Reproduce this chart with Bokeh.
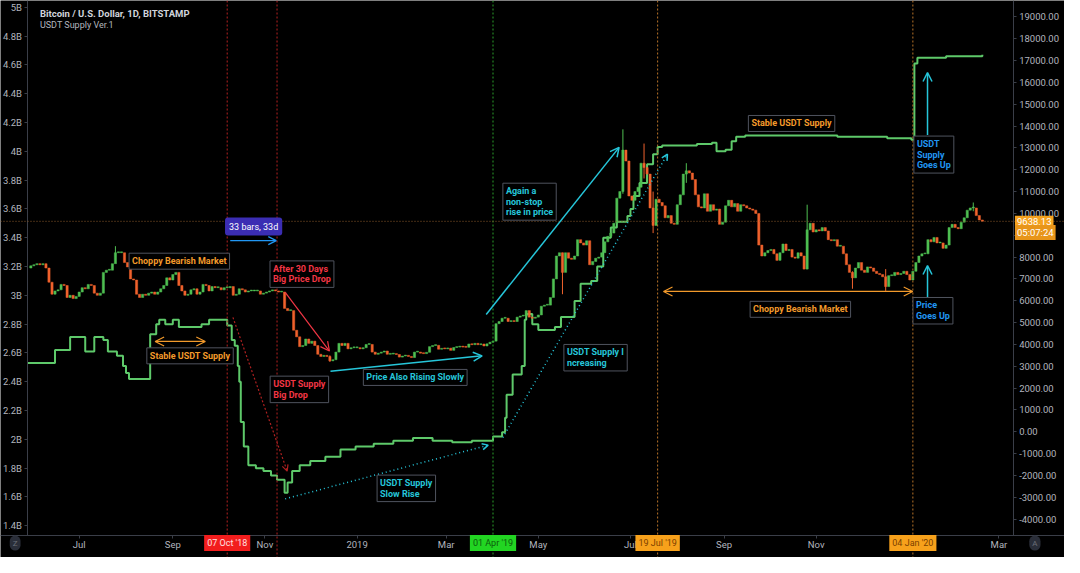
import pandas as pd
from bokeh.plotting import figure
from bokeh.models import (Range1d, LinearAxis, FixedTicker, Span, Label, Arrow,
                          OpenHead, ColumnDataSource)
from bokeh.embed import file_html
from bokeh.resources import INLINE

# ---------------------------------------------------------------- data
# BTC/USD (Bitstamp) closes, one value every 2 days starting 2018-05-30
price_start = "2018-05-30"
price_first_open = 7500
price_close_2018 = [
    7600,
    7650, 7700, 7650, 7700, 7500, 6850, 6300, 6450, 6500, 6750, 6700, 6150, 6250, 6100, 6200,
    6400, 6600, 6550, 6750, 6700, 6350, 6250, 6350, 7300, 7400, 7400, 7700, 8200, 8200, 8200, 7750,
    7550, 7000, 6950, 6300, 6150, 6300, 6250, 6350, 6400, 6300, 6400, 6550, 6700, 7050, 6950,
    7200, 7300, 6700, 6450, 6250, 6300, 6500, 6550, 6300, 6400, 6750, 6700, 6450, 6650, 6600,
    6600, 6500, 6600, 6600, 6650, 6250, 6300, 6550, 6500, 6400, 6450, 6450, 6450, 6450, 6300, 6350,
    6400, 6450, 6500, 6450, 6400, 6400, 5650, 5550, 5550, 4650, 4350, 3900, 3950, 4250, 4050,
    4150, 3950, 3550, 3450, 3500, 3450, 3250, 3300, 3650, 4050, 3950, 4050, 3800, 3850, 3850,
]
price_close_2019 = [
    3850, 3800, 3850, 4000, 4000, 3650, 3550, 3600, 3650, 3700, 3550, 3560, 3580, 3540, 3420, 3470,
    3500, 3450, 3400, 3650, 3650, 3600, 3580, 3640, 3900, 3950, 3960, 3780, 3820, 3800,
    3830, 3730, 3860, 3880, 3900, 3880, 3870, 4020, 3990, 4050, 3990, 4020, 3930, 4030, 4100,
    4150, 4950, 5050, 5200, 5200, 5050, 5080, 5050, 5250, 5300, 5300, 5550, 5250, 5200, 5250,
    5350, 5750, 5800, 5800, 6150, 7000, 8050, 8200, 7300, 8200, 7950, 7900, 8050, 8800, 8650, 8550,
    8750, 7650, 7800, 7950, 8000, 8200, 8700, 8950, 9100, 9550, 10700, 11000, 12900, 12400, 10800,
    10600, 11000, 11200, 12300, 12100, 11800, 10250, 9450, 10650, 10500, 10350, 9800, 9900, 9550, 9500,
    10400, 10850, 11800, 11950, 11850, 11550, 10850, 10300, 10250, 10900, 10100, 10400, 10150, 10200, 9500, 9600,
    10350, 10600, 10300, 10450, 10100, 10400, 10350, 10250, 10200, 10150, 10000, 8550, 8050, 8200, 8300,
    8350, 8150, 7850, 8200, 8600, 8300, 8350, 8000, 7950, 8200, 8050, 7450, 9250, 9550, 9150,
    9250, 9200, 9350, 9200, 8800, 8750, 8800, 8500, 8500, 8150, 7650, 7300, 7050, 7500, 7750,
    7400, 7300, 7550, 7500, 7350, 7250, 7200, 7100, 6650, 7150, 7150, 7300, 7200, 7250, 7350, 7200,
]
price_close_2020 = [
    6950, 7350, 7750, 8050, 8150, 8150, 8800, 8700, 8900, 8650, 8650, 8400, 8550, 9350, 9500,
    9350, 9300, 9600, 9800, 10150, 10250, 10250, 9900, 9700, 9638.13,
]
# notable wicks (date, low, high)
wick_dates = ["2018-07-25", "2018-12-14", "2019-05-17", "2019-06-26", "2019-07-10",
              "2019-07-16", "2019-08-07", "2019-10-26", "2019-11-25", "2019-12-17", "2020-02-13"]
wick_low = [8000, 3200, 6300, 10900, 11600, 9100, 11400, 7450, 6550, 6450, 10100]
wick_high = [8500, 3500, 8200, 13850, 13200, 11000, 12300, 10400, 7350, 7450, 10500]

# USDT supply (billions), step changes
usdt_dates = [
    "2018-05-28", "2018-06-15", "2018-06-25", "2018-07-05", "2018-07-11", "2018-07-17", "2018-07-20",
    "2018-07-26", "2018-07-30", "2018-08-01", "2018-08-03", "2018-08-17", "2018-08-21", "2018-08-23",
    "2018-08-27", "2018-09-01", "2018-09-05", "2018-09-20", "2018-09-25", "2018-10-07", "2018-10-10",
    "2018-10-12", "2018-10-14", "2018-10-15", "2018-10-16", "2018-10-18", "2018-10-21", "2018-10-26",
    "2018-10-31", "2018-11-05", "2018-11-09", "2018-11-14", "2018-11-16", "2018-11-19", "2018-11-24",
    "2018-12-01", "2018-12-11", "2018-12-21", "2018-12-31", "2019-01-12", "2019-01-25", "2019-02-07",
    "2019-02-20", "2019-03-05", "2019-03-18", "2019-04-01", "2019-04-07", "2019-04-09", "2019-04-10",
    "2019-04-14", "2019-04-20", "2019-04-22", "2019-04-23", "2019-04-27", "2019-05-01", "2019-05-12",
    "2019-05-16", "2019-05-25", "2019-05-29", "2019-06-05", "2019-06-09", "2019-06-13", "2019-06-18",
    "2019-06-22", "2019-06-29", "2019-07-01", "2019-07-03", "2019-07-07", "2019-07-12", "2019-07-16",
    "2019-07-19", "2019-07-22", "2019-08-14", "2019-08-24", "2019-08-27", "2019-09-02", "2019-09-06",
    "2019-09-09", "2019-09-15", "2019-10-13", "2019-11-15", "2019-12-18", "2020-01-03", "2020-01-05",
    "2020-01-07", "2020-01-26", "2020-02-19",
]
usdt_supply_b = [
    2.53, 2.62, 2.71, 2.61, 2.71, 2.69, 2.61,
    2.58, 2.51, 2.46, 2.42, 2.73, 2.80, 2.83,
    2.80, 2.83, 2.78, 2.80, 2.83, 2.79, 2.69,
    2.65, 2.51, 2.40, 2.12, 1.95, 1.82, 1.80,
    1.78, 1.75, 1.72, 1.63, 1.70, 1.78, 1.82,
    1.85, 1.88, 1.93, 1.95, 1.97, 1.99, 2.01,
    1.99, 1.98, 1.99, 2.02, 2.05, 2.15, 2.31,
    2.45, 2.51, 2.83, 2.87, 2.80, 2.76, 2.78,
    2.85, 2.96, 3.08, 3.10, 3.20, 3.40, 3.47,
    3.51, 3.55, 3.60, 3.69, 3.78, 3.91, 3.98,
    4.03, 4.04, 4.05, 4.06, 4.00, 4.01, 4.07,
    4.10, 4.11, 4.11, 4.10, 4.09, 4.08, 4.61,
    4.65, 4.66, 4.67,
]

left_ticks = [1.4, 1.6, 1.8, 2.0, 2.2, 2.4, 2.6, 2.8, 3.0, 3.2, 3.4, 3.6, 3.8, 4.0, 4.2, 4.4, 4.6, 4.8, 5.0]
left_labels = ["1.4B", "1.6B", "1.8B", "2B", "2.2B", "2.4B", "2.6B", "2.8B", "3B", "3.2B", "3.4B",
               "3.6B", "3.8B", "4B", "4.2B", "4.4B", "4.6B", "4.8B", "5B"]
right_ticks = list(range(-4000, 19001, 1000))
right_labels = ["%.2f" % t for t in right_ticks]
x_tick_dates = ["2018-07-01", "2018-09-01", "2018-11-01", "2019-01-01", "2019-03-01", "2019-05-01",
                "2019-07-01", "2019-09-01", "2019-11-01", "2020-01-01", "2020-03-01"]
x_tick_labels = ["Jul", "Sep", "Nov", "2019", "Mar", "May", "Jul", "Sep", "Nov", "2020", "Mar"]

marker_dates = ["2018-10-07", "2019-04-01", "2019-07-19", "2020-01-04"]
marker_labels = ["07 Oct '18", "01 Apr '19", "19 Jul '19", "04 Jan '20"]
last_price = 9638.13
last_price_label = "9638.13"
countdown_label = "05:07:24"

# ---------------------------------------------------------------- helpers
BASE = pd.Timestamp("2019-01-01")


def day(d):
    return (pd.Timestamp(d) - BASE) / pd.Timedelta(days=1)


FONT = "Roboto"
UP, DOWN = "#4fbf52", "#f0622d"
ORANGE, RED, CYAN, BLUE = "#f39a2b", "#f23645", "#26c6da", "#2196f3"
AXIS_TXT, AXIS_LINE = "#b2b5be", "#3a3e48"

# visible window (whole canvas is the plotting frame; axes sit at fixed positions)
X_LEFT, X_RIGHT = -236.1, 468.4          # days from 2019-01-01
Y_BOTTOM, Y_TOP = 1.18, 5.0467           # USDT, billions
P_BOTTOM, P_TOP = -5757, 19751           # BTC price
AX_LEFT, AX_RIGHT, AX_BOTTOM = -217.9, 434.4, 1.333
AX_BOTTOM_PRICE = -4746

p = figure(width=1064, height=557, output_backend="svg", toolbar_location=None,
           x_range=Range1d(X_LEFT, X_RIGHT), y_range=Range1d(Y_BOTTOM, Y_TOP),
           background_fill_color="#000000", border_fill_color="#000000",
           outline_line_color=None, min_border_left=0, min_border_right=0,
           min_border_top=0, min_border_bottom=0)
p.extra_y_ranges = {"price": Range1d(P_BOTTOM, P_TOP)}
p.grid.visible = False


def style_axis(ax, size="9.5px", standoff=3):
    ax.axis_line_color = AXIS_LINE
    ax.major_tick_line_color = AXIS_LINE
    ax.major_tick_out = 3
    ax.major_tick_in = 0
    ax.minor_tick_out = 0
    ax.minor_tick_in = 0
    ax.major_label_text_color = AXIS_TXT
    ax.major_label_text_font = FONT
    ax.major_label_text_font_size = size
    ax.major_label_standoff = standoff


ly = p.yaxis[0]
ly.ticker = FixedTicker(ticks=left_ticks)
ly.major_label_overrides = dict(zip(left_ticks, left_labels))
ly.fixed_location = AX_LEFT
ly.bounds = (AX_BOTTOM, Y_TOP)
style_axis(ly)

ry = LinearAxis(y_range_name="price", ticker=FixedTicker(ticks=right_ticks),
                major_label_overrides=dict(zip(right_ticks, right_labels)),
                fixed_location=AX_RIGHT, bounds=(AX_BOTTOM_PRICE, P_TOP))
style_axis(ry)
p.add_layout(ry, "right")

xt = [day(d) for d in x_tick_dates]
bx = p.xaxis[0]
bx.ticker = FixedTicker(ticks=xt)
bx.major_label_overrides = dict(zip(xt, x_tick_labels))
bx.fixed_location = AX_BOTTOM
style_axis(bx, standoff=1)

# ---------------------------------------------------------------- vertical / horizontal guides
span_colors = ["#b52020", "#2a9d2a", "#b87328", "#b87328"]
for d, c in zip(marker_dates, span_colors):
    p.add_layout(Span(location=day(d), dimension="height", line_color=c,
                      line_dash="2 2", line_width=1))
p.add_layout(Span(location=day("2018-11-09"), dimension="height", line_color="#b52020",
                  line_dash="2 2", line_width=1))
p.add_layout(Span(location=last_price, dimension="width", y_range_name="price",
                  line_color="#8a5a2a", line_dash="1 2", line_width=1))

# ---------------------------------------------------------------- USDT supply line
p.step([day(d) for d in usdt_dates], usdt_supply_b, mode="after",
       line_color="#5ec96a", line_width=2)

# ---------------------------------------------------------------- candles
closes = price_close_2018 + price_close_2019 + price_close_2020
dates = pd.date_range(price_start, periods=len(closes), freq="2D")
xs = [day(d) for d in dates]
opens = [price_first_open] + closes[:-1]
tops = [max(o, c, min(o, c) + 40) for o, c in zip(opens, closes)]
bots = [min(o, c) for o, c in zip(opens, closes)]
cols = [UP if c >= o else DOWN for o, c in zip(opens, closes)]
src = ColumnDataSource(dict(x=xs, top=tops, bottom=bots, color=cols))
col_by_x = dict(zip(xs, cols))
wx = [day(d) for d in wick_dates]
p.segment(wx, wick_low, wx, wick_high, y_range_name="price",
          line_color=[col_by_x.get(x, UP) for x in wx], line_width=1)
p.vbar(x="x", width=1.45, top="top", bottom="bottom", fill_color="color",
       line_color="color", line_width=0.5, y_range_name="price", source=src)


# ---------------------------------------------------------------- annotations
def box(x, y, text, color, size="9px", align="left", bold=True):
    p.add_layout(Label(x=x, y=y, text=text, anchor="center", text_align=align,
                       text_color=color, text_font=FONT, text_font_size=size,
                       text_font_style="bold" if bold else "normal",
                       text_line_height=1.05,
                       background_fill_color="#000000", border_line_color="#4f535e",
                       border_line_width=1, padding=3))


def arrow(x0, y0, x1, y1, color, dash="solid", both=False, width=1.5, size=9):
    head = dict(size=size, line_color=color, line_width=width)
    p.add_layout(Arrow(start=OpenHead(**head) if both else None, end=OpenHead(**head),
                       x_start=x0, y_start=y0, x_end=x1, y_end=y1,
                       line_color=color, line_width=width, line_dash=dash))


# title
p.add_layout(Label(x=day("2018-06-05"), y=4.957, text="Bitcoin / U.S. Dollar, 1D, BITSTAMP",
                   text_color="#d1d4dc", text_font=FONT, text_font_size="9.5px",
                   text_font_style="bold", text_baseline="middle"))
p.add_layout(Label(x=day("2018-06-05"), y=4.877, text="USDT Supply Ver.1",
                   text_color="#b2b5be", text_font=FONT, text_font_size="9px",
                   text_baseline="middle"))

# 33 bars measure
p.add_layout(Label(x=-68.5, y=3.477, text="33 bars, 33d", anchor="center",
                   text_color="#ffffff", text_font=FONT, text_font_size="9px",
                   background_fill_color="#3b2db3", border_radius=3, padding=4))
arrow(-84, 3.38, -53.5, 3.38, BLUE, width=1.2, size=8)

box(-117.7, 3.237, "Choppy Bearish Market", ORANGE)
box(-36.5, 3.147, "After 30 Days\nBig Price Drop", RED)
arrow(-47.6, 3.02, -18.3, 2.613, RED, width=1.2)
arrow(-133.7, 2.68, -100.5, 2.68, ORANGE, both=True, width=1.2)
box(-110.6, 2.58, "Stable USDT Supply", ORANGE)
box(-38.2, 2.347, "USDT Supply\nBig Drop", RED)
arrow(-82.2, 2.847, -46.3, 1.78, "#b02020", dash="2 2", width=1.2, size=6)

arrow(-17.6, 2.473, 82.8, 2.58, CYAN, width=1.5)
box(38.5, 2.43, "Price Also Rising Slowly", CYAN)
arrow(-47.6, 1.587, 86.8, 1.96, CYAN, dash="1 3", width=1.5, size=6)
box(32.6, 1.66, "USDT Supply\nSlow Rise", CYAN)

arrow(85.5, 2.867, 173.5, 4.027, CYAN, width=1.5)
box(114.2, 3.65, "Again  a\nnon-stop\nrise in price", CYAN)
arrow(96.5, 2.013, 205.5, 3.98, CYAN, dash="1 3", width=1.5, size=6)
box(157.9, 2.567, "USDT Supply I\nncreasing", CYAN)

arrow(202.9, 3.027, 367.9, 3.027, ORANGE, both=True, width=1.2)
box(293.5, 2.903, "Choppy Bearish Market", ORANGE)
box(287.7, 4.193, "Stable USDT Supply", ORANGE)

arrow(377.7, 4.113, 377.7, 4.547, CYAN, width=1.5)
box(381.9, 3.977, "USDT\nSupply\nGoes Up", BLUE)
arrow(377.7, 2.98, 377.7, 3.207, CYAN, width=1.5)
box(381.3, 2.893, "Price\nGoes Up", BLUE)

# date markers on the time axis
badge_bg = ["#f21d1d", "#22d522", "#f7a11b", "#f7a11b"]
badge_txt = ["#ffe0e0", "#0c5a0c", "#7a3f00", "#7a3f00"]
for d, t, bg, tc in zip(marker_dates, marker_labels, badge_bg, badge_txt):
    p.add_layout(Label(x=day(d), y=1.28, text=t, anchor="center", text_color=tc,
                       text_font=FONT, text_font_size="9px",
                       background_fill_color=bg, padding=3))

# last price badges on the price axis
p.add_layout(Label(x=435.6, y=last_price, y_range_name="price",
                   text=last_price_label, anchor="center_left", text_color="#ffffff",
                   text_font=FONT, text_font_size="9.5px",
                   background_fill_color="#f5a21e", padding=2))
p.add_layout(Label(x=435.6, y=9130, y_range_name="price",
                   text=countdown_label, anchor="center_left", text_color="#ffffff",
                   text_font=FONT, text_font_size="9.5px",
                   background_fill_color="#e8951a", padding=2))

# corner icons
p.add_layout(Label(x=-226.4, y=1.28, text="Z", anchor="center", text_color="#6a6e78",
                   text_font=FONT, text_font_size="8px", background_fill_color="#2a2e39",
                   border_radius=7, padding=3))
p.add_layout(Label(x=448.8, y=1.28, text="A", anchor="center", text_color="#6a6e78",
                   text_font=FONT, text_font_size="8px", background_fill_color="#2a2e39",
                   border_radius=7, padding=3))

open("out.html", "w").write(file_html(p, INLINE))
